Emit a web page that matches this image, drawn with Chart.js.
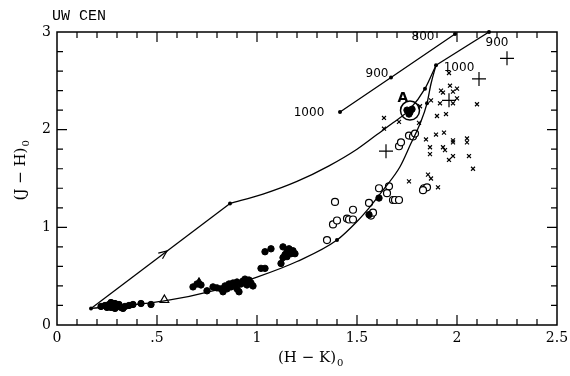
<!DOCTYPE html>
<html>
<head>
<meta charset="utf-8">
<script src="https://cdn.jsdelivr.net/npm/chart.js@4.4.1/dist/chart.umd.min.js"></script>
<style>
  html, body { margin: 0; padding: 0; background: #fff; }
  #wrap { width: 570px; height: 376px; position: relative; }
</style>
</head>
<body>
<div id="wrap"><canvas id="grafico"></canvas></div>
<script>
// tick labels
const xTicks = [0, 0.5, 1, 1.5, 2, 2.5]
const xTickText = ['0', '.5', '1', '1.5', '2', '2.5']
const yTicks = [0, 1, 2, 3]
const yTickText = ['0', '1', '2', '3']

// tracks
const upperStraight = [[0.17, 0.17], [0.865, 1.245]]
const upperCurve = [[0.865, 1.245], [1.03, 1.34], [1.2, 1.47], [1.36, 1.63], [1.5, 1.8], [1.6, 1.95], [1.68, 2.07], [1.76, 2.2], [1.84, 2.42], [1.895, 2.66]]
const lowerCurve = [[0.17, 0.17], [0.53, 0.245], [0.8, 0.36], [1.0, 0.49], [1.2, 0.65], [1.4, 0.87], [1.5, 1.06], [1.565, 1.21], [1.63, 1.38], [1.715, 1.62], [1.77, 1.86], [1.815, 2.06], [1.85, 2.27], [1.87, 2.47], [1.895, 2.66]]
const tailLine = [[1.895, 2.66], [2.16, 3.0]]
const topLine = [[1.415, 2.18], [1.67, 2.535], [1.99, 2.98]]
const nodes = [[0.17, 0.17], [0.865, 1.245], [1.4, 0.87], [1.895, 2.66], [2.16, 3.0], [1.415, 2.18], [1.67, 2.535], [1.99, 2.98], [1.84, 2.42], [1.85, 2.27]]

// observations
const filledPts = [[0.22, 0.19], [0.24, 0.2], [0.25, 0.18], [0.26, 0.21], [0.27, 0.23], [0.28, 0.2], [0.29, 0.22], [0.3, 0.19], [0.31, 0.21], [0.32, 0.18], [0.33, 0.17], [0.34, 0.19], [0.36, 0.2], [0.38, 0.21], [0.42, 0.22], [0.47, 0.21], [0.27, 0.18], [0.29, 0.17],
  [0.68, 0.39], [0.7, 0.42], [0.72, 0.41], [0.75, 0.35], [0.78, 0.39], [0.8, 0.38], [0.82, 0.37], [0.83, 0.34], [0.84, 0.4], [0.85, 0.37], [0.86, 0.42], [0.87, 0.39], [0.88, 0.43], [0.89, 0.41], [0.9, 0.44], [0.91, 0.34], [0.92, 0.42], [0.93, 0.45], [0.95, 0.41], [0.96, 0.46], [0.97, 0.43], [0.98, 0.4], [0.9, 0.37], [0.94, 0.47],
  [1.02, 0.58], [1.04, 0.58], [1.04, 0.75], [1.07, 0.78], [1.12, 0.63], [1.13, 0.8], [1.14, 0.72], [1.15, 0.75], [1.16, 0.78], [1.17, 0.73], [1.18, 0.76], [1.19, 0.73], [1.15, 0.7], [1.13, 0.69],
  [1.61, 1.30], [1.56, 1.13], [1.75, 2.2], [1.765, 2.18], [1.76, 2.16], [1.775, 2.21]]
const openPts = [[1.35, 0.87], [1.39, 1.26], [1.38, 1.03], [1.40, 1.07], [1.45, 1.09], [1.46, 1.08], [1.48, 1.18], [1.48, 1.08], [1.56, 1.25], [1.57, 1.12], [1.58, 1.15], [1.61, 1.40], [1.66, 1.42], [1.65, 1.35], [1.68, 1.28], [1.69, 1.28], [1.71, 1.28], [1.71, 1.83], [1.72, 1.87], [1.76, 1.94], [1.78, 1.93], [1.79, 1.96], [1.835, 1.40], [1.85, 1.41], [1.83, 1.38]]
const crossPts = [[1.635, 2.12], [1.635, 2.01], [1.71, 2.08], [1.81, 2.07], [1.815, 2.24], [1.87, 2.30], [1.915, 2.27], [1.90, 2.14], [1.945, 2.16], [1.96, 2.58], [1.92, 2.40], [1.93, 2.38], [1.965, 2.45], [1.98, 2.39], [2.0, 2.42], [2.0, 2.32], [1.98, 2.27], [2.10, 2.26], [1.845, 1.90], [1.895, 1.95], [1.935, 1.97], [1.865, 1.82], [1.865, 1.75], [1.93, 1.82], [1.94, 1.79], [1.98, 1.89], [1.98, 1.87], [2.05, 1.91], [2.05, 1.87], [1.96, 1.69], [1.98, 1.73], [2.06, 1.73], [2.08, 1.60], [1.855, 1.54], [1.87, 1.50], [1.76, 1.47], [1.905, 1.41]]
const plusPts = [[1.645, 1.78], [2.11, 2.52], [2.25, 2.73], [1.96, 2.30]]
const openTri = [[0.537, 0.256]]
const filledTri = [[0.71, 0.44]]
const circleA = [[1.765, 2.195]]

// temperature labels
const tempLabels = [['1000', 1.26, 2.17], ['900', 1.6, 2.57], ['800', 1.83, 2.95], ['900', 2.2, 2.89], ['1000', 2.01, 2.63], ['A', 1.73, 2.32]]

const toXY = arr => arr.map(p => ({ x: p[0], y: p[1] }))

function linha(pts, tension) {
    return {
        type: 'line',
        data: toXY(pts),
        borderColor: '#000',
        borderWidth: 1.3,
        pointRadius: 0,
        tension: tension,
        cubicInterpolationMode: tension ? 'monotone' : 'default',
        fill: false,
    }
}

function pontos(pts, style, radius, bg, bw) {
    return {
        type: 'scatter',
        data: toXY(pts),
        pointStyle: style,
        pointRadius: radius,
        backgroundColor: bg,
        borderColor: '#000',
        borderWidth: bw,
        clip: false,
    }
}

const moldura = {
    id: 'moldura',
    afterDraw(chart) {
        const ctx = chart.ctx
        const xs = chart.scales.x, ys = chart.scales.y
        const a = chart.chartArea
        ctx.save()
        ctx.strokeStyle = '#000'
        ctx.lineWidth = 1.5
        ctx.strokeRect(a.left, a.top, a.right - a.left, a.bottom - a.top)
        ctx.lineWidth = 1.2
        // x ticks every 0.1
        for (let i = 1; i < 25; i++) {
            const px = xs.getPixelForValue(i / 10)
            const len = i % 5 === 0 ? 10 : 6
            ctx.beginPath()
            ctx.moveTo(px, a.bottom); ctx.lineTo(px, a.bottom - len)
            ctx.moveTo(px, a.top); ctx.lineTo(px, a.top + len)
            ctx.stroke()
        }
        // y ticks every 0.2
        for (let i = 1; i < 15; i++) {
            const py = ys.getPixelForValue(i / 5)
            const len = i % 5 === 0 ? 10 : 6
            ctx.beginPath()
            ctx.moveTo(a.left, py); ctx.lineTo(a.left + len, py)
            ctx.moveTo(a.right, py); ctx.lineTo(a.right - len, py)
            ctx.stroke()
        }
        ctx.fillStyle = '#000'
        ctx.font = '14px "DejaVu Serif"'
        ctx.textAlign = 'center'
        ctx.textBaseline = 'top'
        xTicks.forEach((v, i) => ctx.fillText(xTickText[i], xs.getPixelForValue(v), a.bottom + 6))
        ctx.textAlign = 'right'
        ctx.textBaseline = 'middle'
        yTicks.forEach((v, i) => ctx.fillText(yTickText[i], a.left - 6, ys.getPixelForValue(v)))

        // axis titles
        ctx.font = '15px "DejaVu Serif"'
        ctx.textAlign = 'left'
        ctx.textBaseline = 'alphabetic'
        const tx = '(H \u2212 K)'
        const w = ctx.measureText(tx).width
        const cx = (a.left + a.right) / 2
        ctx.fillText(tx, cx - w / 2, 362)
        ctx.font = '10px "DejaVu Serif"'
        ctx.fillText('0', cx + w / 2 + 1, 366)

        ctx.save()
        ctx.translate(20, 170)
        ctx.rotate(-Math.PI / 2)
        ctx.font = '15px "DejaVu Serif"'
        const ty = '(J \u2212 H)'
        const wy = ctx.measureText(ty).width
        ctx.fillText(ty, -wy / 2 - 4, 5)
        ctx.font = '10px "DejaVu Serif"'
        ctx.fillText('0', wy / 2 - 3, 9)
        ctx.restore()

        // title
        ctx.font = '15px "Liberation Mono"'
        ctx.textBaseline = 'alphabetic'
        ctx.fillText('UW CEN', 52, 20)

        // labels near tracks
        ctx.font = '12px "DejaVu Sans"'
        ctx.textAlign = 'center'
        ctx.textBaseline = 'middle'
        tempLabels.forEach(t => {
            if (t[0] === 'A') ctx.font = 'bold 14px "DejaVu Sans"'
            ctx.fillText(t[0], xs.getPixelForValue(t[1]), ys.getPixelForValue(t[2]))
        })

        // arrow head on the upper straight track
        const p0x = xs.getPixelForValue(upperStraight[0][0]), p0y = ys.getPixelForValue(upperStraight[0][1])
        const p1x = xs.getPixelForValue(upperStraight[1][0]), p1y = ys.getPixelForValue(upperStraight[1][1])
        const ang = Math.atan2(p1y - p0y, p1x - p0x)
        const hx = xs.getPixelForValue(0.55), hy = p0y + (hx - p0x) * Math.tan(ang)
        ctx.beginPath()
        ctx.moveTo(hx - 9 * Math.cos(ang - 0.4), hy - 9 * Math.sin(ang - 0.4))
        ctx.lineTo(hx, hy)
        ctx.lineTo(hx - 9 * Math.cos(ang + 0.4), hy - 9 * Math.sin(ang + 0.4))
        ctx.stroke()
        ctx.restore()
    }
}

const config = {
    data: {
        datasets: [
            linha(upperStraight, 0),
            linha(upperCurve, 0.4),
            linha(lowerCurve, 0.4),
            linha(tailLine, 0),
            linha(topLine, 0),
            pontos(nodes, 'circle', 2, '#000', 0),
            pontos(filledPts, 'circle', 3.2, '#000', 1),
            pontos(openPts, 'circle', 3.5, '#fff', 1.2),
            pontos(crossPts, 'crossRot', 2.8, '#000', 1.2),
            pontos(plusPts, 'cross', 7, '#000', 1.2),
            pontos(openTri, 'triangle', 5, '#fff', 1.2),
            pontos(filledTri, 'triangle', 4.5, '#000', 1),
            pontos(circleA, 'circle', 9.5, 'rgba(0,0,0,0)', 1.5),
        ]
    },
    options: {
        responsive: false,
        animation: false,
        layout: { padding: { left: 57, top: 32, right: 13, bottom: 51 } },
        plugins: { legend: { display: false }, tooltip: { enabled: false } },
        scales: {
            x: { type: 'linear', min: 0, max: 2.5, display: false },
            y: { type: 'linear', min: 0, max: 3, display: false }
        }
    },
    plugins: [moldura]
}

const cnv = document.querySelector('#grafico')
cnv.width = 570
cnv.height = 376
const grafico = new Chart(cnv, config)
</script>
</body>
</html>
